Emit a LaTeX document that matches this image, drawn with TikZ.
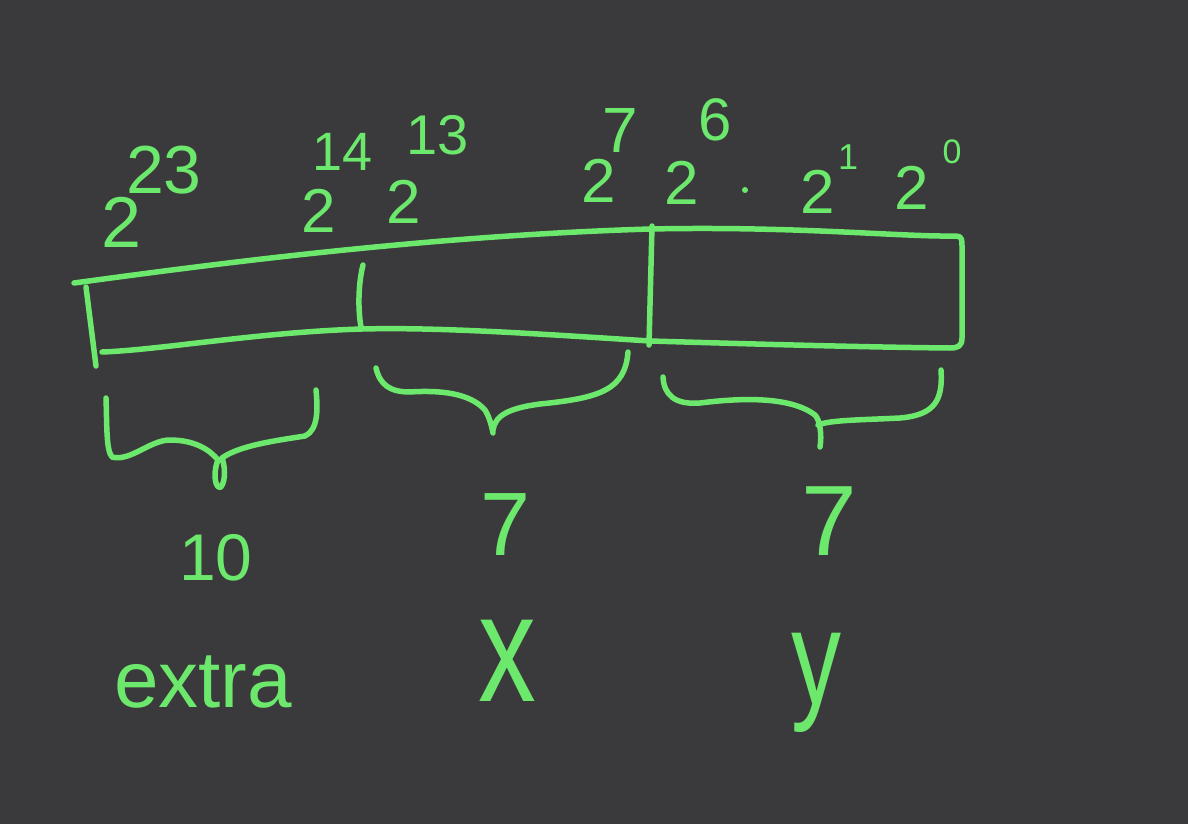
\documentclass[tikz,border=0pt]{standalone}
\usepackage{fontspec}
\setmainfont{Liberation Sans}
\usetikzlibrary{positioning}
\definecolor{chalk}{RGB}{108,232,108}
\definecolor{board}{RGB}{58,58,60}

\begin{document}
\begin{tikzpicture}[x=1pt,y=-1pt,
    ink/.style={draw=chalk,line width=5.5pt,line cap=round,line join=round},
    lbl/.style={text=chalk,inner sep=0pt,font=\fontsize{#1}{#1}\selectfont},
    lbl/.default=62]
    \fill[board] (0,0) rectangle (1188,824);
    % the word
    \draw[ink] (74,283) .. controls (200,266) and (420,236) .. (650,229)
        .. controls (800,226) and (900,237) .. (956,236)
        .. controls (962,236) and (962,240) .. (962,246)
        -- (962,338) .. controls (962,346) and (958,348) .. (950,348)
        .. controls (850,347) and (720,343) .. (650,341)
        .. controls (540,334) and (440,327) .. (362,329)
        .. controls (260,332) and (160,350) .. (102,352);
    \draw[ink] (86,287) -- (96,366);
    \draw[ink] (363,265) .. controls (358,285) and (358,310) .. (361,327);
    \draw[ink] (652,226) -- (649,345);
    % bit positions
    \node[lbl=72] (b23) at (122,222) {2};
    \node[lbl=68] (e23) at (164,170) {23};
    \node[lbl] (b14) at (319,211) {2};
    \node[lbl=54] (e14) at (343,152) {14};
    \node[lbl] (b13) at (404,202) {2};
    \node[lbl=56] (e13) at (438,135) {13};
    \node[lbl] (b7) at (599,181) {2};
    \node[lbl=64] (e7) at (620,130) {7};
    \node[lbl] (b6) at (682,183) {2};
    \node[lbl=60] (e6) at (715,120) {6};
    \fill[chalk] (745,190) circle (3);
    \node[lbl] (b1) at (818,192) {2};
    \node[lbl=36] (e1) at (848,157) {1};
    \node[lbl] (b0) at (912,188) {2};
    \node[lbl=34] (e0) at (952,152) {0};
    % braces
    \draw[ink] (106,398) .. controls (107,425) and (106,450) .. (112,457)
        .. controls (130,462) and (150,440) .. (170,440)
        .. controls (195,440) and (210,450) .. (218,460)
        .. controls (212,475) and (216,490) .. (221,487)
        .. controls (226,480) and (225,466) .. (222,458)
        .. controls (240,445) and (280,440) .. (305,436)
        .. controls (318,430) and (318,410) .. (316,390);
    \draw[ink] (376,368) .. controls (380,385) and (390,392) .. (410,392)
        .. controls (440,390) and (470,393) .. (485,410)
        .. controls (490,418) and (492,428) .. (493,433);
    \draw[ink] (493,430) .. controls (495,415) and (510,408) .. (540,404)
        .. controls (600,398) and (625,390) .. (628,352);
    \draw[ink] (663,377) .. controls (664,395) and (675,405) .. (700,403)
        .. controls (740,398) and (790,396) .. (815,415)
        .. controls (820,420) and (822,435) .. (820,447);
    \draw[ink] (818,425) .. controls (830,420) and (860,420) .. (900,418)
        .. controls (935,415) and (943,400) .. (941,370);
    % field sizes
    \node[lbl=66] (n10) at (216,558) {10};
    \node[lbl=90] (nx7) at (506,525) {7};
    \node[lbl=100] (ny7) at (829,521) {7};
    \node[lbl=80] (extra) at (203,682) {extra};
    \node[lbl=110] (fx) at (507,661) {\scalebox{1.05}[1.4]{x}};
    \node[lbl=100] (fy) at (816,683) {\scalebox{1}[1.35]{y}};
\end{tikzpicture}
\end{document}
